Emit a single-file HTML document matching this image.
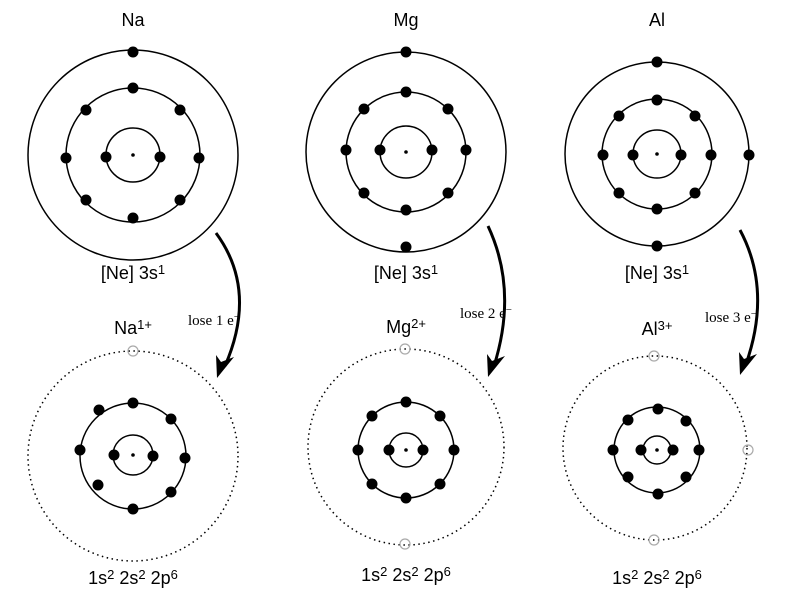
<!DOCTYPE html>
<html><head><style>body{margin:0;background:#fff}svg{display:block}
.s{font-family:"Liberation Sans",sans-serif;font-size:18px;fill:#000;text-anchor:middle}
.r{font-family:"Liberation Serif",serif;font-size:15px;fill:#000;text-anchor:middle}
</style></head><body>
<svg width="787" height="594" viewBox="0 0 787 594" xmlns="http://www.w3.org/2000/svg">
<g fill="none" stroke="#000" stroke-width="1.5">
<circle cx="133" cy="155" r="105"/><circle cx="133" cy="155" r="67"/><circle cx="133" cy="155" r="27"/>
<circle cx="406" cy="152" r="100"/><circle cx="406" cy="152" r="60"/><circle cx="406" cy="152" r="26"/>
<circle cx="657" cy="154" r="92"/><circle cx="657" cy="154" r="55"/><circle cx="657" cy="154" r="24"/>
<circle cx="133" cy="456" r="53"/><circle cx="133" cy="455" r="20"/>
<circle cx="406" cy="450" r="48"/><circle cx="406" cy="450" r="17"/>
<circle cx="657" cy="450" r="43"/><circle cx="657" cy="450" r="14"/>
</g>
<g fill="none" stroke="#000" stroke-width="1.5" stroke-dasharray="1.5 3.5">
<circle cx="133" cy="456" r="105"/><circle cx="406" cy="447" r="98"/><circle cx="655" cy="448" r="92"/>
</g>
<g fill="none" stroke="#aaa" stroke-width="1.2">
<circle cx="133" cy="351" r="5"/><circle cx="405" cy="349" r="5"/><circle cx="405" cy="544" r="5"/>
<circle cx="654" cy="356" r="5"/><circle cx="748" cy="450" r="5"/><circle cx="654" cy="540" r="5"/>
</g>
<g fill="#000">
<circle cx="133" cy="155" r="1.8"/><circle cx="406" cy="152" r="1.8"/><circle cx="657" cy="154" r="1.8"/>
<circle cx="133" cy="455" r="1.8"/><circle cx="406" cy="450" r="1.8"/><circle cx="657" cy="450" r="1.8"/>
</g>
<g fill="#000" stroke="#000" stroke-width="1">
<circle cx="133" cy="52" r="5"/>
<circle cx="133" cy="88" r="5"/><circle cx="133" cy="218" r="5"/><circle cx="66" cy="158" r="5"/><circle cx="199" cy="158" r="5"/>
<circle cx="86" cy="110" r="5"/><circle cx="180" cy="110" r="5"/><circle cx="86" cy="200" r="5"/><circle cx="180" cy="200" r="5"/>
<circle cx="106" cy="157" r="5"/><circle cx="160" cy="157" r="5"/>
<circle cx="406" cy="52" r="5"/><circle cx="406" cy="247" r="5"/>
<circle cx="406" cy="92" r="5"/><circle cx="406" cy="210" r="5"/><circle cx="346" cy="150" r="5"/><circle cx="466" cy="150" r="5"/>
<circle cx="364" cy="109" r="5"/><circle cx="448" cy="109" r="5"/><circle cx="364" cy="193" r="5"/><circle cx="448" cy="193" r="5"/>
<circle cx="380" cy="150" r="5"/><circle cx="432" cy="150" r="5"/>
<circle cx="657" cy="62" r="5"/><circle cx="657" cy="246" r="5"/><circle cx="749" cy="155" r="5"/>
<circle cx="657" cy="100" r="5"/><circle cx="657" cy="209" r="5"/><circle cx="603" cy="155" r="5"/><circle cx="711" cy="155" r="5"/>
<circle cx="619" cy="116" r="5"/><circle cx="695" cy="116" r="5"/><circle cx="619" cy="193" r="5"/><circle cx="695" cy="193" r="5"/>
<circle cx="633" cy="155" r="5"/><circle cx="681" cy="155" r="5"/>
<circle cx="133" cy="403" r="5"/><circle cx="133" cy="509" r="5"/><circle cx="80" cy="450" r="5"/><circle cx="185" cy="458" r="5"/>
<circle cx="99" cy="410" r="5"/><circle cx="171" cy="419" r="5"/><circle cx="98" cy="485" r="5"/><circle cx="171" cy="492" r="5"/>
<circle cx="114" cy="455" r="5"/><circle cx="153" cy="456" r="5"/>
<circle cx="406" cy="402" r="5"/><circle cx="406" cy="498" r="5"/><circle cx="358" cy="450" r="5"/><circle cx="454" cy="450" r="5"/>
<circle cx="372" cy="416" r="5"/><circle cx="440" cy="416" r="5"/><circle cx="372" cy="484" r="5"/><circle cx="440" cy="484" r="5"/>
<circle cx="389" cy="450" r="5"/><circle cx="423" cy="450" r="5"/>
<circle cx="658" cy="409" r="5"/><circle cx="658" cy="494" r="5"/><circle cx="613" cy="450" r="5"/><circle cx="699" cy="450" r="5"/>
<circle cx="628" cy="420" r="5"/><circle cx="686" cy="421" r="5"/><circle cx="628" cy="477" r="5"/><circle cx="686" cy="477" r="5"/>
<circle cx="641" cy="450" r="5"/><circle cx="673" cy="450" r="5"/>
</g>
<g fill="none" stroke="#000" stroke-width="3">
<path d="M216,233 Q258,290 225,366"/>
<path d="M488,226 Q518,290 494,366"/>
<path d="M740,230 Q772,290 746,364"/>
</g>
<g fill="#000">
<polygon points="217,378 216,355 221,362 234,357"/>
<polygon points="488,377 487,354 492,361 505,356"/>
<polygon points="740,375 739,352 744,359 757,354"/>
</g>
<text class="s" x="133" y="26">Na</text>
<text class="s" x="406" y="26">Mg</text>
<text class="s" x="657" y="26">Al</text>
<text class="s" x="133" y="279">[Ne] 3s<tspan font-size="13" dy="-5">1</tspan></text>
<text class="s" x="406" y="279">[Ne] 3s<tspan font-size="13" dy="-5">1</tspan></text>
<text class="s" x="657" y="279">[Ne] 3s<tspan font-size="13" dy="-5">1</tspan></text>
<text class="r" x="214" y="325">lose 1 e<tspan font-size="11" dy="-5">−</tspan></text>
<text class="r" x="486" y="318">lose 2 e<tspan font-size="11" dy="-5">−</tspan></text>
<text class="r" x="731" y="322">lose 3 e<tspan font-size="11" dy="-5">−</tspan></text>
<text class="s" x="133" y="334">Na<tspan font-size="13" dy="-5">1+</tspan></text>
<text class="s" x="406" y="333">Mg<tspan font-size="13" dy="-5">2+</tspan></text>
<text class="s" x="657" y="335">Al<tspan font-size="13" dy="-5">3+</tspan></text>
<text class="s" x="133" y="584">1s<tspan font-size="13" dy="-5">2</tspan><tspan dy="5"> 2s</tspan><tspan font-size="13" dy="-5">2</tspan><tspan dy="5"> 2p</tspan><tspan font-size="13" dy="-5">6</tspan></text>
<text class="s" x="406" y="581">1s<tspan font-size="13" dy="-5">2</tspan><tspan dy="5"> 2s</tspan><tspan font-size="13" dy="-5">2</tspan><tspan dy="5"> 2p</tspan><tspan font-size="13" dy="-5">6</tspan></text>
<text class="s" x="657" y="584">1s<tspan font-size="13" dy="-5">2</tspan><tspan dy="5"> 2s</tspan><tspan font-size="13" dy="-5">2</tspan><tspan dy="5"> 2p</tspan><tspan font-size="13" dy="-5">6</tspan></text>
</svg>
</body></html>
